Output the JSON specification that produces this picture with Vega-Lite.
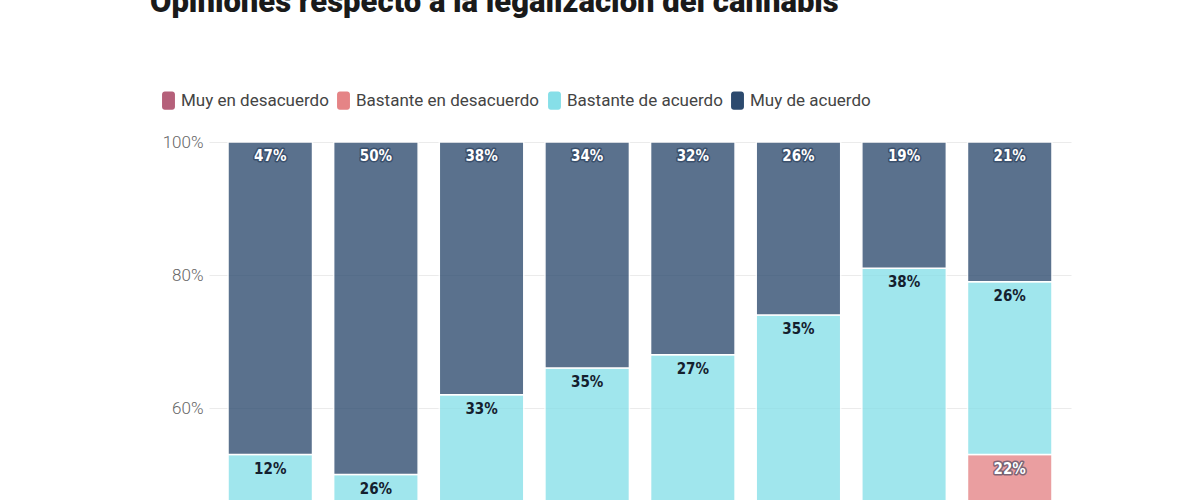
{
  "$schema": "https://vega.github.io/schema/vega-lite/v6.json",
  "width": 862,
  "height": 665,
  "padding": {"left": 150, "top": -13, "right": 5, "bottom": 5},
  "title": {
    "text": "Opiniones respecto a la legalización del cannabis",
    "anchor": "start",
    "frame": "bounds",
    "font": "Roboto",
    "fontSize": 31,
    "fontWeight": 900,
    "color": "#1a1a1a",
    "dx": -9,
    "offset": 72
  },
  "config": {
    "view": {"stroke": null},
    "axis": {"labelFont": "Roboto", "titleFont": "Roboto"},
    "legend": {"labelFont": "Roboto"}
  },
  "data": {
    "values": [
      {"grupo": "18-24", "respuesta": "Muy en desacuerdo", "orden": 1, "valor": 25},
      {"grupo": "18-24", "respuesta": "Bastante en desacuerdo", "orden": 2, "valor": 16},
      {"grupo": "18-24", "respuesta": "Bastante de acuerdo", "orden": 3, "valor": 12},
      {"grupo": "18-24", "respuesta": "Muy de acuerdo", "orden": 4, "valor": 47},
      {"grupo": "25-29", "respuesta": "Muy en desacuerdo", "orden": 1, "valor": 14},
      {"grupo": "25-29", "respuesta": "Bastante en desacuerdo", "orden": 2, "valor": 10},
      {"grupo": "25-29", "respuesta": "Bastante de acuerdo", "orden": 3, "valor": 26},
      {"grupo": "25-29", "respuesta": "Muy de acuerdo", "orden": 4, "valor": 50},
      {"grupo": "30-39", "respuesta": "Muy en desacuerdo", "orden": 1, "valor": 17},
      {"grupo": "30-39", "respuesta": "Bastante en desacuerdo", "orden": 2, "valor": 12},
      {"grupo": "30-39", "respuesta": "Bastante de acuerdo", "orden": 3, "valor": 33},
      {"grupo": "30-39", "respuesta": "Muy de acuerdo", "orden": 4, "valor": 38},
      {"grupo": "40-49", "respuesta": "Muy en desacuerdo", "orden": 1, "valor": 18},
      {"grupo": "40-49", "respuesta": "Bastante en desacuerdo", "orden": 2, "valor": 13},
      {"grupo": "40-49", "respuesta": "Bastante de acuerdo", "orden": 3, "valor": 35},
      {"grupo": "40-49", "respuesta": "Muy de acuerdo", "orden": 4, "valor": 34},
      {"grupo": "50-59", "respuesta": "Muy en desacuerdo", "orden": 1, "valor": 24},
      {"grupo": "50-59", "respuesta": "Bastante en desacuerdo", "orden": 2, "valor": 17},
      {"grupo": "50-59", "respuesta": "Bastante de acuerdo", "orden": 3, "valor": 27},
      {"grupo": "50-59", "respuesta": "Muy de acuerdo", "orden": 4, "valor": 32},
      {"grupo": "60-69", "respuesta": "Muy en desacuerdo", "orden": 1, "valor": 23},
      {"grupo": "60-69", "respuesta": "Bastante en desacuerdo", "orden": 2, "valor": 16},
      {"grupo": "60-69", "respuesta": "Bastante de acuerdo", "orden": 3, "valor": 35},
      {"grupo": "60-69", "respuesta": "Muy de acuerdo", "orden": 4, "valor": 26},
      {"grupo": "70-79", "respuesta": "Muy en desacuerdo", "orden": 1, "valor": 25},
      {"grupo": "70-79", "respuesta": "Bastante en desacuerdo", "orden": 2, "valor": 18},
      {"grupo": "70-79", "respuesta": "Bastante de acuerdo", "orden": 3, "valor": 38},
      {"grupo": "70-79", "respuesta": "Muy de acuerdo", "orden": 4, "valor": 19},
      {"grupo": "80+", "respuesta": "Muy en desacuerdo", "orden": 1, "valor": 31},
      {"grupo": "80+", "respuesta": "Bastante en desacuerdo", "orden": 2, "valor": 22},
      {"grupo": "80+", "respuesta": "Bastante de acuerdo", "orden": 3, "valor": 26},
      {"grupo": "80+", "respuesta": "Muy de acuerdo", "orden": 4, "valor": 21}
    ]
  },
  "transform": [
    {"stack": "valor", "groupby": ["grupo"], "sort": [{"field": "orden", "order": "ascending"}], "as": ["v0", "v1"]},
    {"calculate": "datum.valor + '%'", "as": "etiqueta"}
  ],
  "encoding": {
    "x": {
      "field": "grupo",
      "type": "nominal",
      "sort": null,
      "scale": {"paddingInner": 0.2, "paddingOuter": 0.18},
      "axis": {"title": null, "labelAngle": 0, "domain": false, "ticks": false, "labelFontSize": 15, "labelColor": "#666"}
    }
  },
  "layer": [
    {
      "mark": {"type": "bar", "opacity": 0.78, "stroke": "white", "strokeWidth": 1.5, "strokeOpacity": 1},
      "encoding": {
        "y": {
          "field": "v1",
          "type": "quantitative",
          "scale": {"domain": [0, 100], "nice": false},
          "axis": {
            "title": null,
            "values": [0, 20, 40, 60, 80, 100],
            "labelExpr": "datum.value + '%'",
            "domain": false,
            "ticks": false,
            "gridColor": "#ebebeb",
            "labelColor": "#666666",
            "labelFontSize": 17,
            "labelFontWeight": 300,
            "labelPadding": 6
          }
        },
        "y2": {"field": "v0"},
        "color": {
          "field": "respuesta",
          "type": "nominal",
          "scale": {
            "domain": ["Muy en desacuerdo", "Bastante en desacuerdo", "Bastante de acuerdo", "Muy de acuerdo"],
            "range": ["#b5607a", "#e58486", "#86dfe8", "#2c4a6e"]
          },
          "legend": {
            "title": null,
            "orient": "none",
            "legendX": -50,
            "legendY": -51,
            "direction": "horizontal",
            "symbolType": "M-0.4,-1H0.4A0.3,0.3 0 0 1 0.7,-0.7V0.7A0.3,0.3 0 0 1 0.4,1H-0.4A0.3,0.3 0 0 1 -0.7,0.7V-0.7A0.3,0.3 0 0 1 -0.4,-1Z",
            "symbolSize": 340,
            "symbolOpacity": 1,
            "symbolStrokeWidth": 0,
            "labelFontSize": 17,
            "labelColor": "#444444",
            "labelOffset": 3,
            "columnPadding": 5,
            "labelLimit": 400
          }
        }
      }
    },
    {
      "transform": [{"filter": "datum.respuesta != 'Bastante de acuerdo'"}],
      "mark": {"type": "text", "dy": 14, "baseline": "middle", "font": "Liberation Sans Narrow, DejaVu Sans Condensed, sans-serif", "fontWeight": "bold", "fontSize": 15, "stroke": "#1f3350", "strokeWidth": 3, "strokeOpacity": 0.55, "strokeJoin": "round", "fill": "#1f3350", "fillOpacity": 0.55},
      "encoding": {
        "y": {"field": "v1", "type": "quantitative"},
        "text": {"field": "etiqueta"}
      }
    },
    {
      "mark": {"type": "text", "dy": 14, "baseline": "middle", "font": "Liberation Sans Narrow, DejaVu Sans Condensed, sans-serif", "fontWeight": "bold", "fontSize": 15},
      "encoding": {
        "y": {"field": "v1", "type": "quantitative"},
        "text": {"field": "etiqueta"},
        "color": {
          "condition": {"test": "datum.respuesta == 'Bastante de acuerdo'", "value": "#14202e"},
          "value": "#ffffff"
        }
      }
    }
  ]
}
